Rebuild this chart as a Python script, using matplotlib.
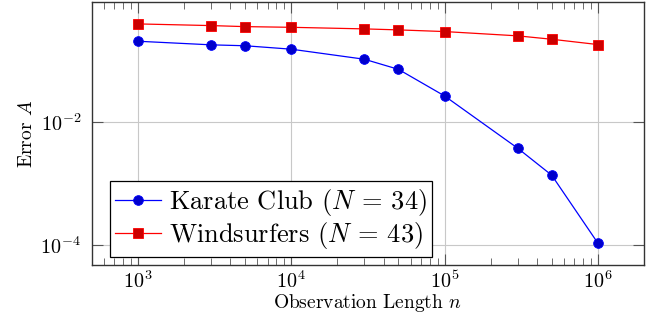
import numpy as np
import matplotlib
matplotlib.use("Agg")
import matplotlib.pyplot as plt

plt.rcParams["font.family"] = "serif"
plt.rcParams["font.serif"] = ["cmr10", "DejaVu Serif"]
plt.rcParams["mathtext.fontset"] = "cm"
plt.rcParams["axes.formatter.use_mathtext"] = True

# observation lengths and error for both networks
n_obs = [1e3, 3e3, 5e3, 1e4, 3e4, 5e4, 1e5, 3e5, 5e5, 1e6]
err_karate = [0.206, 0.180, 0.174, 0.153, 0.105, 0.072, 0.0266, 0.00376, 0.00137, 1.08e-4]
err_windsurf = [0.394, 0.37, 0.356, 0.347, 0.327, 0.315, 0.296, 0.252, 0.222, 0.182]

fig = plt.figure(figsize=(6.59, 3.27), dpi=100)
ax = fig.add_axes([0.1396, 0.1896, 0.8374, 0.8043])

ax.plot(n_obs, err_karate, color="blue", lw=0.9, marker="o", ms=7,
        mfc="#0000cc", mec="blue", mew=0.6, label="Karate Club ($N$ = 34)")
ax.plot(n_obs, err_windsurf, color="red", lw=0.9, marker="s", ms=7.5,
        mfc="#cc0000", mec="red", mew=0.6, label="Windsurfers ($N$ = 43)")

ax.set_xscale("log")
ax.set_yscale("log")
ax.margins(0.1)
ax.set_yticks([1e-4, 1e-2])

ax.grid(True, which="major", color="#c8c8c8", lw=0.8)
ax.set_axisbelow(True)
ax.tick_params(which="both", direction="in", top=True, right=True, labelsize=14.5)
ax.tick_params(which="major", length=8, width=0.8, color="#555555")
ax.tick_params(which="minor", length=5, width=0.6, color="#555555")
ax.tick_params(axis="y", which="major", pad=8)
ax.tick_params(axis="y", which="minor", left=False, right=False)
for s in ax.spines.values():
    s.set_linewidth(1.0)
    s.set_color("#333333")

ax.set_xlabel("Observation Length $n$", fontsize=14, labelpad=0)
ax.set_ylabel("Error $A$", fontsize=14, labelpad=3)

leg = ax.legend(loc="lower left", bbox_to_anchor=(0.032, 0.0316), borderaxespad=0,
                fontsize=19, fancybox=False, framealpha=1, edgecolor="black",
                handlelength=1.75, handletextpad=0.3, borderpad=0.2, labelspacing=0.1)
leg.get_frame().set_linewidth(0.9)

fig.savefig("out.png", dpi=100)
